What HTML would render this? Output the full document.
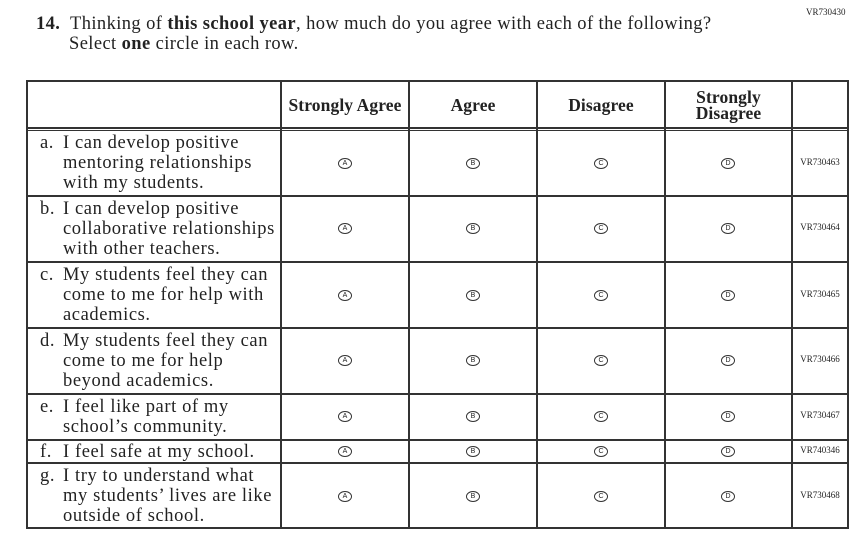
<!DOCTYPE html>
<html><head><meta charset="utf-8"><style>
body{margin:0;width:861px;height:539px;background:#fff;position:relative;font-family:"Liberation Serif",serif;color:#222;overflow:hidden}
.a{position:absolute}
.h{position:absolute;height:2px;background:#333;left:26px;width:823px}
.v{position:absolute;width:2px;background:#333;top:80px;height:449px}
.t{position:absolute;left:40px;font-size:18.5px;line-height:20px;width:250px;letter-spacing:0.6px;white-space:nowrap}
.t span{display:inline-block;width:23px}
.t div{padding-left:23px}
.hd{position:absolute;top:80px;height:49px;display:flex;align-items:center;justify-content:center;text-align:center;font-weight:bold;font-size:17.5px;line-height:16px;letter-spacing:0.1px}
.c{position:absolute;width:12px;height:9px;border:1px solid #333;border-radius:50%;font-size:7px;line-height:9px;text-align:center;font-family:"Liberation Sans",sans-serif}
.id{position:absolute;left:794px;font-size:9px;width:52px;text-align:center}
</style></head><body>
<div class="a" style="left:806px;top:7px;font-size:9px">VR730430</div>
<div class="a" style="left:36px;top:14px;font-size:18.5px;line-height:20px;letter-spacing:0.4px;white-space:nowrap"><b>14.</b>&nbsp; Thinking of <b>this school year</b>, how much do you agree with each of the following?<br><span style="padding-left:33px">Select <b>one</b> circle in each row.</span></div>
<div class="h" style="top:80px"></div>
<div class="h" style="top:127px"></div>
<div class="h" style="top:130px;height:1px"></div>
<div class="h" style="top:195px"></div>
<div class="h" style="top:261px"></div>
<div class="h" style="top:327px"></div>
<div class="h" style="top:393px"></div>
<div class="h" style="top:439px"></div>
<div class="h" style="top:462px"></div>
<div class="h" style="top:527px"></div>
<div class="v" style="left:26px"></div>
<div class="v" style="left:280px"></div>
<div class="v" style="left:408px"></div>
<div class="v" style="left:536px"></div>
<div class="v" style="left:664px"></div>
<div class="v" style="left:791px"></div>
<div class="v" style="left:847px"></div>
<div class="hd" style="left:282px;width:126px">Strongly Agree</div>
<div class="hd" style="left:410px;width:126px">Agree</div>
<div class="hd" style="left:538px;width:126px">Disagree</div>
<div class="hd" style="left:666px;width:125px">Strongly<br>Disagree</div>

<div class="t" style="top:133px"><span>a.</span>I can develop positive<div>mentoring relationships</div><div>with my students.</div></div>
<div class="t" style="top:199px"><span>b.</span>I can develop positive<div>collaborative relationships</div><div>with other teachers.</div></div>
<div class="t" style="top:265px"><span>c.</span>My students feel they can<div>come to me for help with</div><div>academics.</div></div>
<div class="t" style="top:331px"><span>d.</span>My students feel they can<div>come to me for help</div><div>beyond academics.</div></div>
<div class="t" style="top:397px"><span>e.</span>I feel like part of my<div>school’s community.</div></div>
<div class="t" style="top:442px"><span>f.</span>I feel safe at my school.</div>
<div class="t" style="top:466px"><span>g.</span>I try to understand what<div>my students’ lives are like</div><div>outside of school.</div></div>

<div id="circ"></div>
<script>
var ys=[163,228,295,360,416,451,496],ids=["VR730463","VR730464","VR730465","VR730466","VR730467","VR740346","VR730468"],xs=[345,473,601,728],L="ABCD",h="";
ys.forEach(function(y,i){xs.forEach(function(x,j){h+='<div class="c" style="left:'+(x-7)+'px;top:'+(y-5)+'px">'+L[j]+'</div>'});h+='<div class="id" style="top:'+(y-6)+'px">'+ids[i]+'</div>'});
document.getElementById("circ").innerHTML=h;
</script>
</body></html>
